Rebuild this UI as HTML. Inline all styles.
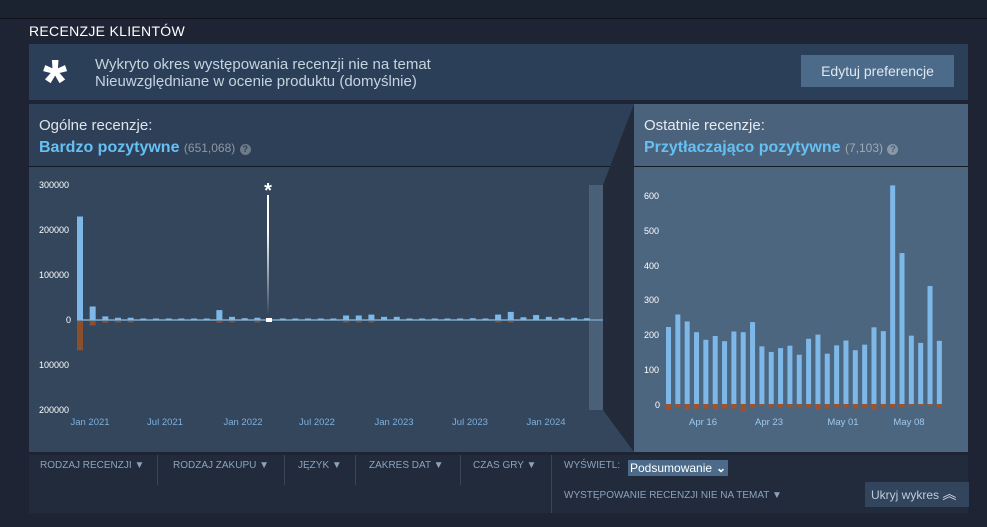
<!DOCTYPE html>
<html><head><meta charset="utf-8"><style>
body{margin:0;width:987px;height:527px;background:#1e2433;font-family:"Liberation Sans",sans-serif;overflow:hidden;position:relative}
.a{position:absolute}
</style></head><body>
<div class="a" style="left:0;top:0;width:987px;height:18px;background:#1b2331;border-bottom:1px solid #0f141c"></div>
<div class="a" style="left:29px;top:23px;color:#fff;font-size:14px;letter-spacing:0.3px">RECENZJE KLIENTÓW</div>
<div class="a" style="left:29px;top:44px;width:939px;height:56px;background:#2b3f58"></div>
<div class="a" style="left:43px;top:52px;color:#fff;font-size:62px;font-weight:bold;line-height:62px">*</div>
<div class="a" style="left:95px;top:56px;color:#c6d4df;font-size:15px;line-height:17px">Wykryto okres występowania recenzji nie na temat<br>Nieuwzględniane w ocenie produktu (domyślnie)</div>
<div class="a" style="left:801px;top:55px;width:153px;height:32px;background:#4c6b8a;color:#dfe8f0;font-size:14px;line-height:32px;text-align:center">Edytuj preferencje</div>
<div class="a" style="left:29px;top:104px;width:605px;height:348px;background:#33465c"></div>
<div class="a" style="left:29px;top:104px;width:605px;height:62px;background:#2e4057;border-bottom:1px solid #141a22"></div>
<div class="a" style="left:39px;top:117px;color:#dfe4ea;font-size:15px">Ogólne recenzje:</div>
<div class="a" style="left:39px;top:139px;color:#66c0f4;font-size:16px;font-weight:bold">Bardzo pozytywne <span style="color:#8f98a0;font-size:12px;font-weight:normal">(651,068)</span> <span style="display:inline-block;width:11px;height:11px;border-radius:6px;background:#6d7a88;color:#2e4057;font-size:9px;line-height:11px;text-align:center">?</span></div>
<svg class="a" style="left:0;top:0" width="987" height="527">
<polygon points="634,104 603,185 603,410 634,452" fill="#232a3a"/>
<rect x="589" y="185" width="14" height="225" fill="#4a6078"/>
<g id="L"></g>
</svg>
<div class="a" style="left:634px;top:104px;width:334px;height:348px;background:#4c6680"></div>
<div class="a" style="left:634px;top:104px;width:334px;height:62px;background:#4a627b;border-bottom:1px solid #141a22"></div>
<div class="a" style="left:644px;top:117px;color:#e6ebef;font-size:15px">Ostatnie recenzje:</div>
<div class="a" style="left:644px;top:139px;color:#66c0f4;font-size:16px;font-weight:bold">Przytłaczająco pozytywne <span style="color:#a0aab4;font-size:12px;font-weight:normal">(7,103)</span> <span style="display:inline-block;width:11px;height:11px;border-radius:6px;background:#8a98a6;color:#4a627b;font-size:9px;line-height:11px;text-align:center">?</span></div>
<svg class="a" style="left:0;top:0" width="987" height="527" id="s2"></svg>
<div class="a" style="left:29px;top:455px;width:939px;height:58px;background:#222b3b"></div>
<div class="a" style="top:460px;left:40px;color:#8ba3bd;font-size:10px;white-space:nowrap">
<span class="a" style="left:0">RODZAJ RECENZJI ▼</span>
<span class="a" style="left:133px">RODZAJ ZAKUPU ▼</span>
<span class="a" style="left:258px">JĘZYK ▼</span>
<span class="a" style="left:329px">ZAKRES DAT ▼</span>
<span class="a" style="left:433px">CZAS GRY ▼</span>
<span class="a" style="left:524px">WYŚWIETL:</span>
<span class="a" style="left:524px;top:30px">WYSTĘPOWANIE RECENZJI NIE NA TEMAT ▼</span>
</div>
<div class="a" style="left:157px;top:455px;width:1px;height:30px;background:#3a4658"></div>
<div class="a" style="left:284px;top:455px;width:1px;height:30px;background:#3a4658"></div>
<div class="a" style="left:355px;top:455px;width:1px;height:30px;background:#3a4658"></div>
<div class="a" style="left:460px;top:455px;width:1px;height:30px;background:#3a4658"></div>
<div class="a" style="left:551px;top:455px;width:1px;height:58px;background:#3a4658"></div>
<div class="a" style="left:628px;top:460px;width:100px;height:16px;background:#4c6b8a;color:#fff;font-size:12px;line-height:16px;padding-left:2px;box-sizing:border-box;overflow:hidden;white-space:nowrap">Podsumowanie<span style="position:absolute;right:2px;top:0;background:#4c6b8a;font-weight:bold">⌄</span></div>
<div class="a" style="left:865px;top:482px;width:104px;height:25px;background:#33455d;color:#bcd;font-size:12px;line-height:25px;padding-left:6px;box-sizing:border-box">Ukryj wykres <span style="font-size:14px;color:#dde">︽</span></div>
<script>
var ns="http://www.w3.org/2000/svg";
function el(g,t,a,txt){var e=document.createElementNS(ns,t);for(var k in a)e.setAttribute(k,a[k]);if(txt)e.textContent=txt;g.appendChild(e);return e;}
var L=document.getElementById("L");
var neg=[65,10,4,3,2,1,1,1,1,1,1,4,2,1,2,0,0,0,0,0,0,2,2,2,1,1,0,0,0,0,0,1,1,2,3,1,1,1,1,1,1];
var vals=[230,30,8,5,5,3,2,2,2,1,1,22,7,4,5,0,1,1,1,1,1,10,10,12,7,7,2,2,3,1,2,4,3,12,18,6,11,7,5,5,4];
el(L,"line",{x1:77,y1:320,x2:603,y2:320,stroke:"#6d8fb0","stroke-width":2});
for(var i=0;i<vals.length;i++){var x=77+i*12.67;var h=vals[i]*0.45;if(h<1.5)h=1.5;
 if(i!=15)el(L,"rect",{x:x,y:320-h,width:6,height:h,fill:"#7eb8e8"});
 var n=neg[i]*0.45;if(n>0.5)el(L,"rect",{x:x,y:321,width:6,height:Math.max(n,1.5),fill:"#8b4f2c"});}
el(L,"rect",{x:266,y:318,width:6,height:4,fill:"#fff"});
el(L,"defs",{}).innerHTML='<linearGradient id="gg" x1="0" y1="0" x2="0" y2="1"><stop offset="0.3" stop-color="#fff"/><stop offset="1" stop-color="#fff" stop-opacity="0"/></linearGradient>';
el(L,"rect",{x:267,y:195,width:2,height:120,fill:"url(#gg)"});
el(L,"text",{x:268,y:197,fill:"#fff","font-size":20,"font-weight":"bold","text-anchor":"middle","font-family":"Liberation Sans"},"*");
var yl=[["300000",188],["200000",233],["100000",278],["0",323],["100000",368],["200000",413]];
yl.forEach(function(t){el(L,"text",{x:t[0]=="0"?66:39,y:t[1],fill:"#fff","font-size":9,"font-family":"Liberation Sans"},t[0])});
[["Jan 2021",90],["Jul 2021",165],["Jan 2022",243],["Jul 2022",317],["Jan 2023",394],["Jul 2023",470],["Jan 2024",546]].forEach(function(t){el(L,"text",{x:t[1],y:425,fill:"#7eb1df","font-size":9.5,"text-anchor":"middle","font-family":"Liberation Sans"},t[0])});
var R=document.getElementById("s2");
var rv=[222,258,238,207,185,196,181,209,207,236,166,150,161,168,142,188,200,145,169,183,155,171,221,210,630,435,197,176,340,182];
var rn=[3,1,3,2,2,3,2,2,4,1,0,1,1,1,1,1,3,2,1,1,2,1,3,1,1,1,0,0,0,1];
for(var j=0;j<30;j++){var x=666+j*9.34;var h=rv[j]*0.347;
 el(R,"rect",{x:x,y:404-h,width:5,height:h,fill:"#7eb8e8"});
 el(R,"rect",{x:x,y:404,width:5,height:2+rn[j]*1.3,fill:"#a0522d"});}
[["600",199],["500",234],["400",269],["300",303],["200",338],["100",373],["0",408]].forEach(function(t){el(R,"text",{x:t[0]=="0"?655:644,y:t[1],fill:"#fff","font-size":9,"font-family":"Liberation Sans"},t[0])});
[["Apr 16",703],["Apr 23",769],["May 01",843],["May 08",909]].forEach(function(t){el(R,"text",{x:t[1],y:425,fill:"#9fc8ec","font-size":9.5,"text-anchor":"middle","font-family":"Liberation Sans"},t[0])});
</script>
</body></html>
